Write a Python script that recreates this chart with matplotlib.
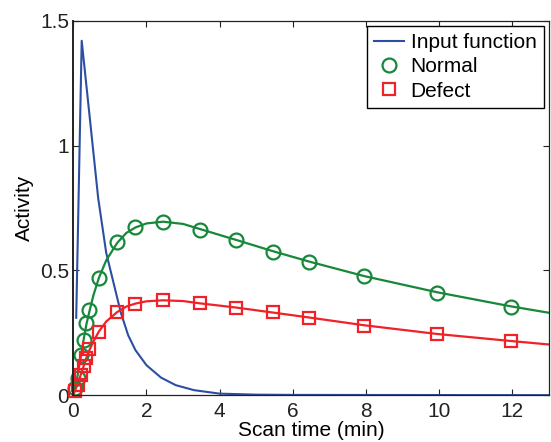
import numpy as np
import matplotlib.pyplot as plt


# ============================================================
# Data
# ============================================================

# input function (plasma), min / activity
input_t = [0.08, 0.23, 0.68, 0.90, 1.15, 1.30, 1.50, 1.70, 2.00, 2.40, 2.80, 3.30, 4.00, 5.00, 6.00, 13.0]
input_y = [0.31, 1.42, 0.79, 0.57, 0.42, 0.33, 0.24, 0.18, 0.12, 0.07, 0.04, 0.02, 0.006, 0.002, 0.001, 0.0]

# frame mid-times of the measured tissue curves
frame_t = [0.04, 0.12, 0.20, 0.28, 0.36, 0.44, 0.70, 1.20, 1.70, 2.45, 3.45,
           4.45, 5.45, 6.45, 7.95, 9.95, 11.95]
normal_y = [0.03, 0.07, 0.16, 0.22, 0.29, 0.34, 0.47, 0.615, 0.675, 0.693, 0.662,
            0.62, 0.574, 0.533, 0.476, 0.411, 0.355]
defect_y = [0.015, 0.04, 0.08, 0.115, 0.15, 0.185, 0.255, 0.335, 0.367, 0.381, 0.369,
            0.351, 0.332, 0.31, 0.279, 0.245, 0.216]

# fitted model curves
fit_t = [0.0, 0.04, 0.12, 0.20, 0.28, 0.36, 0.44, 0.55, 0.70, 0.90, 1.20, 1.45, 1.70,
         2.00, 2.45, 3.00, 3.45, 4.45, 5.45, 6.45, 7.95, 9.95, 11.95, 13.0]
fit_normal = [0.0, 0.03, 0.08, 0.15, 0.22, 0.285, 0.335, 0.40, 0.47, 0.54, 0.61, 0.65,
              0.672, 0.688, 0.695, 0.686, 0.666, 0.622, 0.577, 0.535, 0.477, 0.412,
              0.356, 0.33]
fit_defect = [0.0, 0.015, 0.045, 0.08, 0.115, 0.15, 0.18, 0.215, 0.255, 0.295, 0.333,
              0.355, 0.367, 0.376, 0.38, 0.377, 0.368, 0.351, 0.331, 0.311, 0.28,
              0.245, 0.217, 0.203]


# ============================================================
# Style
# ============================================================

plt.rcParams.update({
    "font.family": "Liberation Sans",
    "font.size": 15,
    "xtick.direction": "in",
    "ytick.direction": "in",
    "xtick.top": True,
    "ytick.right": True,
})

blue = "#2c4ea3"
green = "#17883a"
red = "#ee2228"

fig = plt.figure(figsize=(5.51, 4.42), dpi=100)
ax = fig.add_axes([0.133, 0.106, 0.8634, 0.847])

ax.plot(input_t, input_y, color=blue, linewidth=1.5, label="Input function")

ax.plot(fit_t, fit_normal, color=green, linewidth=1.6)
ax.plot(fit_t, fit_defect, color=red, linewidth=1.6)

ax.plot(frame_t, normal_y, linestyle="none", marker="o", markersize=10,
        markerfacecolor="none", markeredgecolor=green, markeredgewidth=1.6,
        clip_on=False, label="Normal")
ax.plot(frame_t, defect_y, linestyle="none", marker="s", markersize=8.5,
        markerfacecolor="none", markeredgecolor=red, markeredgewidth=1.6,
        clip_on=False, label="Defect")

ax.set_xlim(0, 13)
ax.set_ylim(0, 1.5)
ax.set_xticks([0, 2, 4, 6, 8, 10, 12])
ax.set_yticks([0, 0.5, 1, 1.5])
ax.set_yticklabels(["0", "0.5", "1", "1.5"])
ax.tick_params(length=4, width=0.8, colors="#222222")
ax.tick_params(axis="x", pad=5)
ax.tick_params(axis="y", pad=3)
for side in ax.spines.values():
    side.set_linewidth(0.9)
    side.set_color("#222222")
ax.spines["left"].set_linewidth(1.4)

ax.set_xlabel("Scan time (min)", labelpad=0)
ax.set_ylabel("Activity", labelpad=4)

leg = ax.legend(loc="upper right", frameon=True, fancybox=False, framealpha=1,
                edgecolor="black", borderaxespad=0.25, handlelength=1.45,
                handletextpad=0.3, borderpad=0.35, labelspacing=0.25, fontsize=15)
leg.get_frame().set_linewidth(1.0)

fig.savefig("out.png", dpi=100)
